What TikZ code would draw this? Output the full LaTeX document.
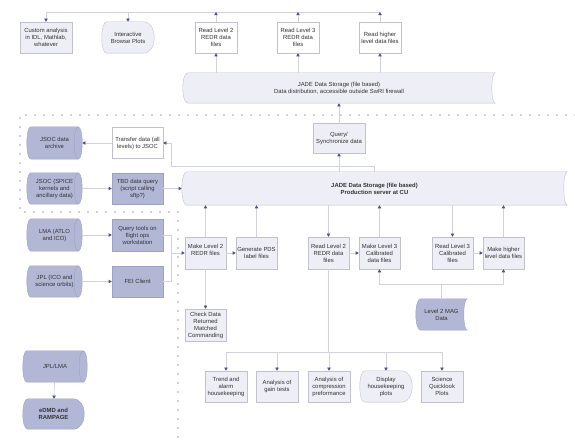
\documentclass[tikz,border=0pt]{standalone}
\usepackage{fontspec}
\setmainfont{Liberation Sans}
\usetikzlibrary{arrows.meta,backgrounds}

\definecolor{lightfill}{HTML}{EEEEF6}
\definecolor{darkfill}{HTML}{B3B7D6}
\definecolor{boxedge}{HTML}{C2C2CA}
\definecolor{darkedge}{HTML}{9DA1C4}
\definecolor{linecol}{HTML}{D2D2DC}
\definecolor{tipcol}{HTML}{4E5280}
\definecolor{dotcol}{HTML}{3A3A3A}

% stored data: bulge on the left, hollow on the right
\newcommand{\storeshape}[2]{%
  \begin{scope}[on background layer]
    \draw[#2] ([xshift=5pt]#1.north west) -- (#1.north east)
      .. controls ([xshift=-4.5pt]#1.north east) and ([xshift=-4.5pt]#1.south east) .. (#1.south east)
      -- ([xshift=5pt]#1.south west)
      .. controls ([xshift=-1.7pt]#1.south west) and ([xshift=-1.7pt]#1.north west) .. ([xshift=5pt]#1.north west) -- cycle;
  \end{scope}}
% display: small curve left, round end right
\newcommand{\displayshape}[2]{%
  \begin{scope}[on background layer]
    \draw[#2] ([xshift=5pt]#1.north west) -- ([xshift=-11pt]#1.north east)
      .. controls ([xshift=3.7pt]#1.north east) and ([xshift=3.7pt]#1.south east) .. ([xshift=-11pt]#1.south east)
      -- ([xshift=5pt]#1.south west)
      .. controls ([xshift=-1.7pt]#1.south west) and ([xshift=-1.7pt]#1.north west) .. ([xshift=5pt]#1.north west) -- cycle;
  \end{scope}}
% drum lying on its side
\newcommand{\drumshape}[2]{%
  \begin{scope}[on background layer]
    \draw[#2] ([xshift=4pt]#1.north west) -- ([xshift=-4pt]#1.north east)
      .. controls ([xshift=1.33pt]#1.north east) and ([xshift=1.33pt]#1.south east) .. ([xshift=-4pt]#1.south east)
      -- ([xshift=4pt]#1.south west)
      .. controls ([xshift=-1.33pt]#1.south west) and ([xshift=-1.33pt]#1.north west) .. ([xshift=4pt]#1.north west) -- cycle;
    \draw[#2, fill=none] ([xshift=-4pt]#1.north east)
      .. controls ([xshift=-9.33pt]#1.north east) and ([xshift=-9.33pt]#1.south east) .. ([xshift=-4pt]#1.south east);
  \end{scope}}

\begin{document}
\begin{tikzpicture}[x=1pt, y=1pt,
  every node/.style={font=\fontsize{5.9}{7}\selectfont, align=center, inner sep=1pt, text=black!80},
  proc/.style={draw=boxedge, fill=lightfill, minimum width=42pt, minimum height=32pt},
  readbox/.style={proc, fill=white},
  feed/.style={proc, draw=darkedge, fill=darkfill, minimum width=51pt},
  conn/.style={draw=linecol, line width=0.8pt},
  arr/.style={conn, -{Triangle[length=3.2pt, width=3.4pt, color=tipcol]}},
  zoneline/.style={draw=dotcol, line width=1.1pt, line cap=round, dash pattern=on 0pt off 9pt},
  lightshape/.style={draw=boxedge, fill=lightfill},
  darkshape/.style={draw=darkedge, fill=darkfill}
]
\useasboundingbox (0,0) rectangle (575,444);

\def\ytop{406.5}
\def\ymid{191}
\def\ybot{57.5}
\def\xin{54.5}
\def\xtool{137.5}

% outputs at the top
\node[proc, minimum width=52pt, minimum height=31pt] (custom) at (46,\ytop) {Custom analysis\\in IDL, Mathlab,\\whatever};
\node[minimum width=52pt, minimum height=31pt] (interactive) at (128,\ytop) {Interactive\\Browse Plots};
\displayshape{interactive}{lightshape}
\node[readbox, minimum height=31pt] (readtwo) at (216,\ytop) {Read Level 2\\REDR data\\files};
\node[readbox, minimum height=31pt] (readthree) at (298,\ytop) {Read Level 3\\REDR data\\files};
\node[readbox, minimum height=31pt] (readhigh) at (380,\ytop) {Read higher\\level data files};

\node[minimum width=312pt, minimum height=30pt] (distrib) at (339,356) {JADE Data Storage (file based)\\Data distribution, accessible outside SwRI firewall};
\storeshape{distrib}{lightshape}
\node[proc, minimum width=52pt, minimum height=30pt] (query) at (339,306) {Query/\\Synchronize data};

% data sources on the left
\node[minimum width=55pt, minimum height=32pt] (jsocarch) at (\xin,301) {JSOC data\\archive};
\drumshape{jsocarch}{darkshape}
\node[readbox, minimum width=51pt, minimum height=31pt] (transfer) at (\xtool,301) {Transfer data (all\\levels) to JSOC};
\node[minimum width=55pt, minimum height=31pt] (jsocspice) at (\xin,255.5) {JSOC (SPICE\\kernels and\\ancillary data)};
\drumshape{jsocspice}{darkshape}
\node[feed, minimum height=31pt] (tbd) at (\xtool,255.5) {TBD data query\\(script calling\\sftp?)};
\node[minimum width=55pt, minimum height=32pt] (lma) at (\xin,209) {LMA (ATLO\\and ICO)};
\drumshape{lma}{darkshape}
\node[feed] (qtools) at (\xtool,209) {Query tools on\\flight ops\\workstation};
\node[minimum width=55pt, minimum height=31pt] (jpl) at (\xin,162.5) {JPL (ICO and\\science orbits)};
\drumshape{jpl}{darkshape}
\node[feed, minimum height=31pt] (fei) at (\xtool,162.5) {FEI Client};
\node[minimum width=64pt, minimum height=31pt] (jpllma) at (55,77.5) {JPL/LMA};
\drumshape{jpllma}{darkshape}
\node[minimum width=61pt, minimum height=30pt, font=\fontsize{5.9}{7}\selectfont\bfseries] (edmd) at (53.5,30) {eDMD and\\RAMPAGE};
\displayshape{edmd}{darkshape}

% production server and processing
\node[minimum width=385pt, minimum height=33pt, font=\fontsize{5.9}{7}\selectfont\bfseries] (prod) at (374.5,255.5) {JADE Data Storage (file based)\\Production server at CU};
\storeshape{prod}{lightshape}

\node[proc, minimum width=41pt] (makel2) at (205.5,\ymid) {Make Level 2\\REDR files\\\mbox{}};
\node[proc, minimum width=41pt] (genpds) at (256.5,\ymid) {Generate PDS\\label files};
\node[proc, minimum width=41pt] (readl2b) at (328.5,\ymid) {Read Level 2\\REDR data\\files};
\node[proc, minimum width=41pt] (makel3) at (379.5,\ymid) {Make Level 3\\Calibrated\\data files};
\node[proc, minimum width=41pt] (readl3c) at (452.5,\ymid) {Read Level 3\\Calibrated\\files};
\node[proc, minimum width=41pt] (makehigh) at (503.5,\ymid) {Make higher\\level data files};
\node[proc, minimum width=41pt] (check) at (205.5,119) {Check Data\\Returned\\Matched\\Commanding};
\node[minimum width=51pt, minimum height=31pt] (mag) at (441.5,129.5) {Level 2 MAG\\Data};
\storeshape{mag}{darkshape}

% plots and analysis
\node[proc, minimum height=31pt] (trend) at (226,\ybot) {Trend and\\alarm\\housekeeping};
\node[proc, minimum height=31pt] (gain) at (277,\ybot) {Analysis of\\gain tests};
\node[proc, minimum height=31pt] (compress) at (329,\ybot) {Analysis of\\compression\\preformance};
\node[minimum width=52pt, minimum height=31pt] (display) at (386,\ybot) {Display\\housekeeping\\plots};
\displayshape{display}{lightshape}
\node[proc, minimum height=31pt] (quicklook) at (442,\ybot) {Science\\Quicklook\\Plots};

% connectors, top
\coordinate (topleft) at (46,432);
\coordinate (topright) at (380,432);
\draw[conn] (topleft) -- (topright);
\draw[arr] (topleft) -- (custom);
\draw[arr] (interactive |- topleft) -- (interactive);
\foreach \r in {readtwo,readthree,readhigh} {
  \draw[arr] (\r |- distrib.north) -- (\r);
  \draw[arr] (\r) -- (\r |- topleft);
}
\draw[arr] (query) -- (distrib);
\draw[arr] (query |- prod.north) -- (query);
\coordinate (tbend) at (171,278);
\draw[arr] (prod.north) |- (tbend) |- (transfer);

% connectors, left
\draw[arr] (transfer) -- (jsocarch);
\draw[arr] (jsocspice) -- (tbd);
\draw[arr] (tbd) -- (prod);
\draw[arr] (lma) -- (qtools);
\draw[arr] (jpl) -- (fei);
\coordinate (merge) at (171,\ymid);
\draw[conn] (qtools) -| (merge);
\draw[conn] (fei) -| (merge);
\draw[arr] (merge) -- (makel2);
\draw[arr] (jpllma) -- (edmd);

% connectors, processing
\foreach \m in {makel2,genpds,makel3,makehigh} \draw[arr] (\m) -- (\m |- prod.south);
\foreach \r in {readl2b,readl3c} \draw[arr] (\r |- prod.south) -- (\r);
\draw[arr] (makel2) -- (genpds);
\draw[arr] (readl2b) -- (makel3);
\draw[arr] (readl3c) -- (makehigh);
\draw[arr] (makel2) -- (check);
\coordinate (magbus) at (441.5,160);
\draw[conn] (mag) -- (magbus);
\draw[arr] (magbus) -| (makel3);
\draw[arr] (magbus) -| (makehigh);
\coordinate (botbus) at (328.5,92);
\draw[conn] (readl2b) -- (botbus);
\foreach \b in {trend,gain,compress,display,quicklook} \draw[arr] (botbus) -| (\b);

% zone boundary
\draw[zoneline] (575,329) -- (20,329) -- (20,232) -- (178,232) -- (178,0);

\end{tikzpicture}
\end{document}
